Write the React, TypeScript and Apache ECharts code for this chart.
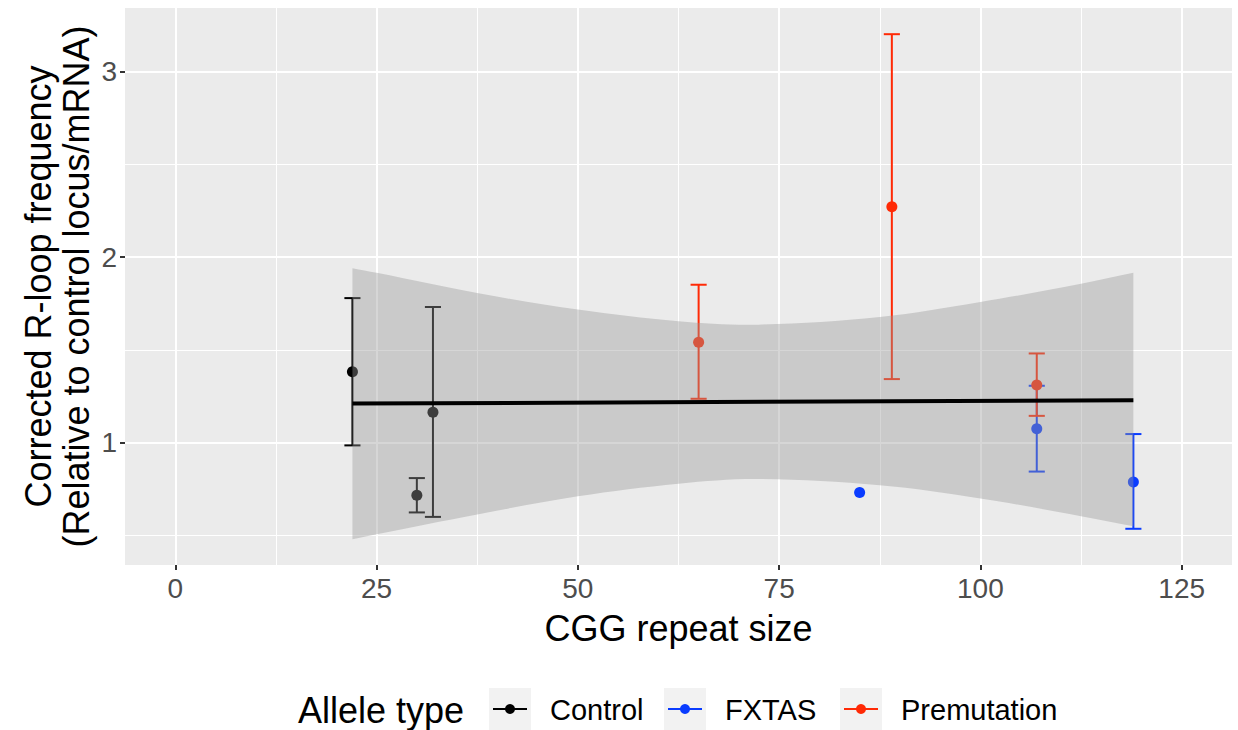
import React, { useEffect, useRef } from "react";
import * as echarts from "echarts";

// ---- data ----
const groups = ["Control", "FXTAS", "Premutation"];
const groupColors = ["#000000", "#0A3CFF", "#FF2A06"];

const controlX = [22, 30, 32];
const controlY = [1.382, 0.717, 1.165];
const controlLo = [0.986, 0.625, 0.601];
const controlHi = [1.779, 0.81, 1.731];

const fxtasX = [85, 107, 119];
const fxtasY = [0.732, 1.075, 0.789];
const fxtasLo = [null, 0.845, 0.537];
const fxtasHi = [null, 1.307, 1.047];

const premX = [65, 89, 107];
const premY = [1.541, 2.271, 1.311];
const premLo = [1.237, 1.343, 1.145];
const premHi = [1.851, 3.2, 1.481];

const fitX = [22, 119];
const fitY = [1.211, 1.229];

const ribbonX = [22, 25, 37.5, 50, 62.5, 72.5, 87.5, 100, 112.5, 119];
const ribbonUpper = [1.94, 1.915, 1.806, 1.717, 1.654, 1.636, 1.677, 1.758, 1.856, 1.915];
const ribbonLower = [0.48, 0.507, 0.614, 0.712, 0.78, 0.805, 0.771, 0.7, 0.605, 0.551];

const xTicks = [0, 25, 50, 75, 100, 125];
const yTicks = [1, 2, 3];

const xTitle = "CGG repeat size";
const yTitle = "Corrected R-loop frequency\n(Relative to control locus/mRNA)";
const legendTitle = "Allele type";

// ---- layout ----
const FONT = "'Liberation Sans', Arial, Helvetica, sans-serif";
const GRID = { left: 125, right: 6, top: 8, bottom: 165 };
const legendKeyX = [489, 664, 840];
const legendY = 709;

export default function App() {
  const ref = useRef<HTMLDivElement>(null);

  useEffect(() => {
    if (!ref.current) return;
    const chart = echarts.init(ref.current, null, { renderer: "svg" });

    const errSeries = (xs: number[], lo: (number | null)[], hi: (number | null)[], color: string) => ({
      type: "custom",
      z: 2,
      silent: true,
      data: xs.map((x, i) => [x, lo[i] == null ? NaN : lo[i], hi[i] == null ? NaN : hi[i]]),
      encode: { x: 0, y: [1, 2] },
      renderItem: (params: any, api: any) => {
        const x = api.value(0);
        const l = api.value(1);
        const h = api.value(2);
        if (isNaN(l) || isNaN(h)) return null;
        const top = api.coord([x, h]);
        const bot = api.coord([x, l]);
        const left = api.coord([x - 1, h])[0];
        const right = api.coord([x + 1, h])[0];
        const st = { stroke: color, lineWidth: 2 };
        return {
          type: "group",
          children: [
            { type: "line", shape: { x1: top[0], y1: top[1], x2: bot[0], y2: bot[1] }, style: st },
            { type: "line", shape: { x1: left, y1: top[1], x2: right, y2: top[1] }, style: st },
            { type: "line", shape: { x1: left, y1: bot[1], x2: right, y2: bot[1] }, style: st },
          ],
        };
      },
    });

    const pointSeries = (name: string, xs: number[], ys: number[], color: string) => ({
      type: "scatter",
      name,
      z: 3,
      symbol: "circle",
      symbolSize: 11,
      itemStyle: { color, opacity: 1 },
      data: xs.map((x, i) => [x, ys[i]]),
    });

    const ribbonSeries = {
      type: "custom",
      z: 4,
      silent: true,
      data: ribbonX.map((x, i) => [x, ribbonLower[i], ribbonUpper[i]]),
      encode: { x: 0, y: [1, 2] },
      renderItem: (params: any, api: any) => {
        if (params.dataIndex !== 0) return null;
        const n = ribbonX.length;
        const up = ribbonX.map((x, i) => api.coord([x, ribbonUpper[i]]));
        const lo = ribbonX.map((x, i) => api.coord([x, ribbonLower[i]])).reverse();
        // duplicate the four corner points so the vertical ends stay straight
        const pts = [up[0], ...up, up[n - 1], lo[0], ...lo, lo[n - 1]];
        return {
          type: "polygon",
          shape: { points: pts, smooth: 0.35 },
          style: { fill: "rgba(153,153,153,0.4)", stroke: null },
        };
      },
    };

    const legendGraphics: any[] = [
      {
        type: "text",
        x: 298,
        y: legendY + 1,
        style: { text: legendTitle, fontSize: 36, fontFamily: FONT, fill: "#000", verticalAlign: "middle", align: "left" },
      },
    ];
    groups.forEach((g, i) => {
      const kx = legendKeyX[i];
      legendGraphics.push(
        { type: "rect", shape: { x: kx, y: legendY - 21, width: 42, height: 42 }, style: { fill: "#F2F2F2" } },
        { type: "line", shape: { x1: kx + 4, y1: legendY, x2: kx + 38, y2: legendY }, style: { stroke: groupColors[i], lineWidth: 2 } },
        { type: "circle", shape: { cx: kx + 21, cy: legendY, r: 5 }, style: { fill: groupColors[i] } },
        {
          type: "text",
          x: kx + 61,
          y: legendY + 1,
          style: { text: g, fontSize: 29, fontFamily: FONT, fill: "#000", verticalAlign: "middle", align: "left" },
        }
      );
    });

    const option: any = {
      animation: false,
      backgroundColor: "#FFFFFF",
      grid: {
        left: GRID.left,
        right: GRID.right,
        top: GRID.top,
        bottom: GRID.bottom,
        show: true,
        backgroundColor: "#EBEBEB",
        borderWidth: 0,
      },
      xAxis: {
        type: "value",
        min: -6.25,
        max: 131.25,
        minInterval: 25,
        maxInterval: 25,
        axisLine: { show: false, onZero: false },
        axisTick: { show: true, customValues: xTicks, length: 5, lineStyle: { color: "#333333", width: 2 } },
        axisLabel: { customValues: xTicks, color: "#4D4D4D", fontSize: 28, fontFamily: FONT, margin: 9 },
        splitLine: { show: true, lineStyle: { color: "#FFFFFF", width: 2 } },
        minorTick: { show: false, splitNumber: 2 },
        minorSplitLine: { show: true, lineStyle: { color: "#FFFFFF", width: 1 } },
      },
      yAxis: {
        type: "value",
        min: 0.342,
        max: 3.341,
        minInterval: 1,
        maxInterval: 1,
        axisLine: { show: false, onZero: false },
        axisTick: { show: true, customValues: yTicks, length: 5, lineStyle: { color: "#333333", width: 2 } },
        axisLabel: { customValues: yTicks, color: "#4D4D4D", fontSize: 28, fontFamily: FONT, margin: 8 },
        splitLine: { show: true, lineStyle: { color: "#FFFFFF", width: 2 } },
        minorTick: { show: false, splitNumber: 2 },
        minorSplitLine: { show: true, lineStyle: { color: "#FFFFFF", width: 1 } },
      },
      graphic: [
        {
          type: "text",
          x: (GRID.left + 1238 - GRID.right) / 2,
          y: 628,
          style: { text: xTitle, fontSize: 36, fontFamily: FONT, fill: "#000", align: "center", verticalAlign: "middle" },
        },
        {
          type: "text",
          x: 57,
          y: (GRID.top + 730 - GRID.bottom) / 2,
          rotation: Math.PI / 2,
          style: {
            text: yTitle,
            fontSize: 36,
            lineHeight: 38,
            fontFamily: FONT,
            fill: "#000",
            align: "center",
            verticalAlign: "middle",
          },
        },
        ...legendGraphics,
      ],
      series: [
        errSeries(controlX, controlLo, controlHi, groupColors[0]),
        errSeries(fxtasX, fxtasLo, fxtasHi, groupColors[1]),
        errSeries(premX, premLo, premHi, groupColors[2]),
        pointSeries(groups[0], controlX, controlY, groupColors[0]),
        pointSeries(groups[1], fxtasX, fxtasY, groupColors[1]),
        pointSeries(groups[2], premX, premY, groupColors[2]),
        ribbonSeries,
        {
          type: "line",
          z: 5,
          silent: true,
          showSymbol: false,
          symbol: "none",
          lineStyle: { color: "#000000", width: 4 },
          data: fitX.map((x, i) => [x, fitY[i]]),
        },
      ],
    };

    chart.setOption(option);
    return () => chart.dispose();
  }, []);

  return (
    <div
      ref={ref}
      style={{ position: "fixed", left: 0, top: 0, width: 1238, height: 730, background: "#fff" }}
    />
  );
}
